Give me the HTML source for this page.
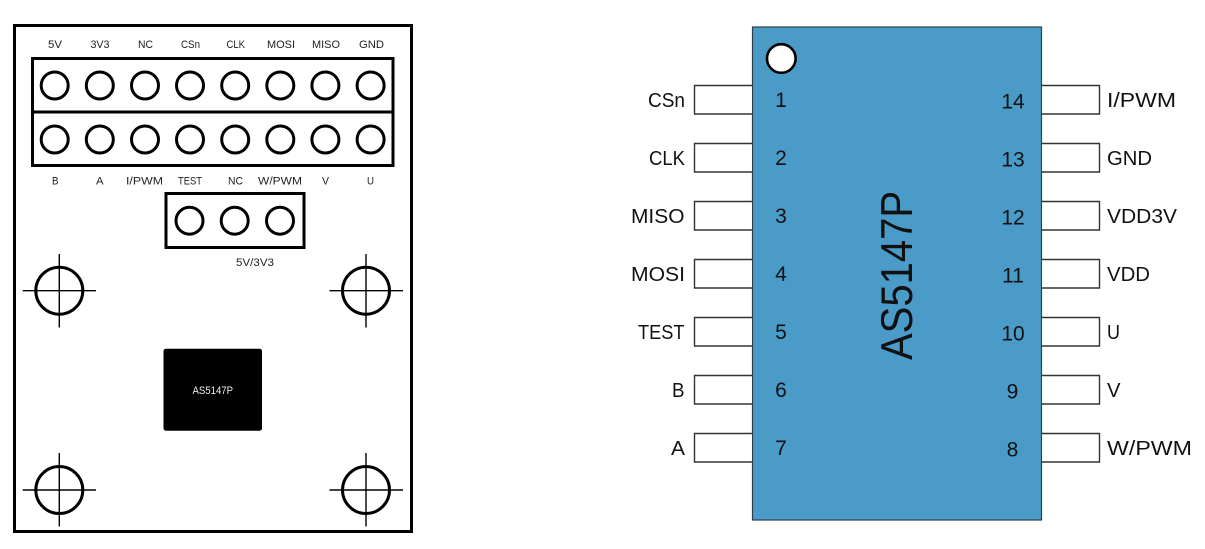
<!DOCTYPE html>
<html>
<head>
<meta charset="utf-8">
<style>
html,body{margin:0;padding:0;background:#fff}
svg{display:block}
text{font-family:"Liberation Sans",sans-serif;fill:#111}
.s text{font-size:11px;fill:#222}
.l text{font-size:20.5px}
.n text{font-size:21px}
</style>
</head>
<body>
<svg width="1205" height="549" viewBox="0 0 1205 549" xmlns="http://www.w3.org/2000/svg">
<rect width="1205" height="549" fill="#fff"/>

<!-- Left board -->
<g fill="none" stroke="#000" stroke-width="3">
  <rect x="14.5" y="25.5" width="397" height="506"/>
  <rect x="32.5" y="58.5" width="360.5" height="107"/>
  <line x1="32.5" y1="112" x2="393" y2="112"/>
  <rect x="166" y="193.5" width="138" height="54"/>
  <circle cx="54.7" cy="85.5" r="13.5"/><circle cx="99.8" cy="85.5" r="13.5"/><circle cx="145" cy="85.5" r="13.5"/><circle cx="190" cy="85.5" r="13.5"/><circle cx="235.2" cy="85.5" r="13.5"/><circle cx="280.3" cy="85.5" r="13.5"/><circle cx="325.4" cy="85.5" r="13.5"/><circle cx="370.6" cy="85.5" r="13.5"/>
  <circle cx="54.7" cy="139.5" r="13.5"/><circle cx="99.8" cy="139.5" r="13.5"/><circle cx="145" cy="139.5" r="13.5"/><circle cx="190" cy="139.5" r="13.5"/><circle cx="235.2" cy="139.5" r="13.5"/><circle cx="280.3" cy="139.5" r="13.5"/><circle cx="325.4" cy="139.5" r="13.5"/><circle cx="370.6" cy="139.5" r="13.5"/>
  <circle cx="189.5" cy="220.7" r="13.5"/><circle cx="234.7" cy="220.7" r="13.5"/><circle cx="280" cy="220.7" r="13.5"/>
  <circle cx="59.3" cy="290.7" r="23.5"/><circle cx="366" cy="290.7" r="23.5"/><circle cx="59.3" cy="490" r="23.5"/><circle cx="366" cy="490" r="23.5"/>
</g>
<g stroke="#000" stroke-width="1.4">
  <path d="M22.7 290.7H96M59.3 254V327.5"/>
  <path d="M329.5 290.7H403M366 254V327.5"/>
  <path d="M22.7 490H96M59.3 453V526.5"/>
  <path d="M329.5 490H403M366 453V526.5"/>
</g>
<rect x="163.5" y="348.7" width="98.5" height="82" rx="2.5" fill="#000"/>

<g class="s">
  <text x="48" y="48" textLength="14" lengthAdjust="spacingAndGlyphs">5V</text>
  <text x="90.5" y="48" textLength="19" lengthAdjust="spacingAndGlyphs">3V3</text>
  <text x="138" y="48" textLength="15" lengthAdjust="spacingAndGlyphs">NC</text>
  <text x="181" y="48" textLength="19" lengthAdjust="spacingAndGlyphs">CSn</text>
  <text x="226.5" y="48" textLength="18.5" lengthAdjust="spacingAndGlyphs">CLK</text>
  <text x="267" y="48" textLength="28" lengthAdjust="spacingAndGlyphs">MOSI</text>
  <text x="312" y="48" textLength="28" lengthAdjust="spacingAndGlyphs">MISO</text>
  <text x="359" y="48" textLength="25" lengthAdjust="spacingAndGlyphs">GND</text>
  <text x="52" y="184.3" textLength="6.5" lengthAdjust="spacingAndGlyphs">B</text>
  <text x="96" y="184.3" textLength="7.5" lengthAdjust="spacingAndGlyphs">A</text>
  <text x="126" y="184.3" textLength="37" lengthAdjust="spacingAndGlyphs">I/PWM</text>
  <text x="178" y="184.3" textLength="24" lengthAdjust="spacingAndGlyphs">TEST</text>
  <text x="228" y="184.3" textLength="15" lengthAdjust="spacingAndGlyphs">NC</text>
  <text x="258" y="184.3" textLength="44" lengthAdjust="spacingAndGlyphs">W/PWM</text>
  <text x="322" y="184.3" textLength="7" lengthAdjust="spacingAndGlyphs">V</text>
  <text x="367" y="184.3" textLength="7" lengthAdjust="spacingAndGlyphs">U</text>
  <text x="236" y="266" textLength="38" lengthAdjust="spacingAndGlyphs">5V/3V3</text>
  <text x="192.5" y="394" textLength="40.5" lengthAdjust="spacingAndGlyphs" style="fill:#eee">AS5147P</text>
</g>

<!-- Right chip -->
<rect x="752.5" y="27" width="289" height="493" fill="#4b9bc8" stroke="#2a3f4c" stroke-width="1.2"/>
<circle cx="781.3" cy="58.5" r="14.3" fill="#fff" stroke="#000" stroke-width="2.6"/>
<g fill="#fff" stroke="#333" stroke-width="1.4">
  <path d="M752 85.5H694.5V114H752"/><path d="M752 143.5H694.5V172H752"/><path d="M752 201.5H694.5V230H752"/><path d="M752 259.5H694.5V288H752"/><path d="M752 317.5H694.5V346H752"/><path d="M752 375.5H694.5V404H752"/><path d="M752 433.5H694.5V462H752"/>
  <path d="M1042 85.5H1099.5V114H1042"/><path d="M1042 143.5H1099.5V172H1042"/><path d="M1042 201.5H1099.5V230H1042"/><path d="M1042 259.5H1099.5V288H1042"/><path d="M1042 317.5H1099.5V346H1042"/><path d="M1042 375.5H1099.5V404H1042"/><path d="M1042 433.5H1099.5V462H1042"/>
</g>

<g class="l">
  <text x="648" y="107" textLength="37" lengthAdjust="spacingAndGlyphs">CSn</text>
  <text x="649" y="165" textLength="36" lengthAdjust="spacingAndGlyphs">CLK</text>
  <text x="631" y="223" textLength="53.5" lengthAdjust="spacingAndGlyphs">MISO</text>
  <text x="631" y="281" textLength="54" lengthAdjust="spacingAndGlyphs">MOSI</text>
  <text x="638" y="339" textLength="46.5" lengthAdjust="spacingAndGlyphs">TEST</text>
  <text x="672" y="397" textLength="12.5" lengthAdjust="spacingAndGlyphs">B</text>
  <text x="671" y="455" textLength="14" lengthAdjust="spacingAndGlyphs">A</text>
  <text x="1107" y="107" textLength="69" lengthAdjust="spacingAndGlyphs">I/PWM</text>
  <text x="1107" y="165" textLength="45" lengthAdjust="spacingAndGlyphs">GND</text>
  <text x="1107" y="223" textLength="70" lengthAdjust="spacingAndGlyphs">VDD3V</text>
  <text x="1107" y="281" textLength="43" lengthAdjust="spacingAndGlyphs">VDD</text>
  <text x="1107" y="339" textLength="13" lengthAdjust="spacingAndGlyphs">U</text>
  <text x="1107" y="397" textLength="13.5" lengthAdjust="spacingAndGlyphs">V</text>
  <text x="1107" y="455" textLength="85" lengthAdjust="spacingAndGlyphs">W/PWM</text>
</g>
<g class="n" text-anchor="middle">
  <text x="781" y="107">1</text><text x="781" y="165">2</text><text x="781" y="223">3</text><text x="781" y="281">4</text><text x="781" y="339">5</text><text x="781" y="397">6</text><text x="781" y="455">7</text>
  <text x="1013" y="108.7">14</text><text x="1013" y="166.7">13</text><text x="1013" y="224.7">12</text><text x="1013" y="282.7">11</text><text x="1013" y="340.7">10</text><text x="1012.5" y="398.7">9</text><text x="1012.5" y="456.7">8</text>
</g>
<text transform="translate(912 360) rotate(-90)" font-size="44.5" textLength="169" lengthAdjust="spacingAndGlyphs">AS5147P</text>
</svg>
</body>
</html>
